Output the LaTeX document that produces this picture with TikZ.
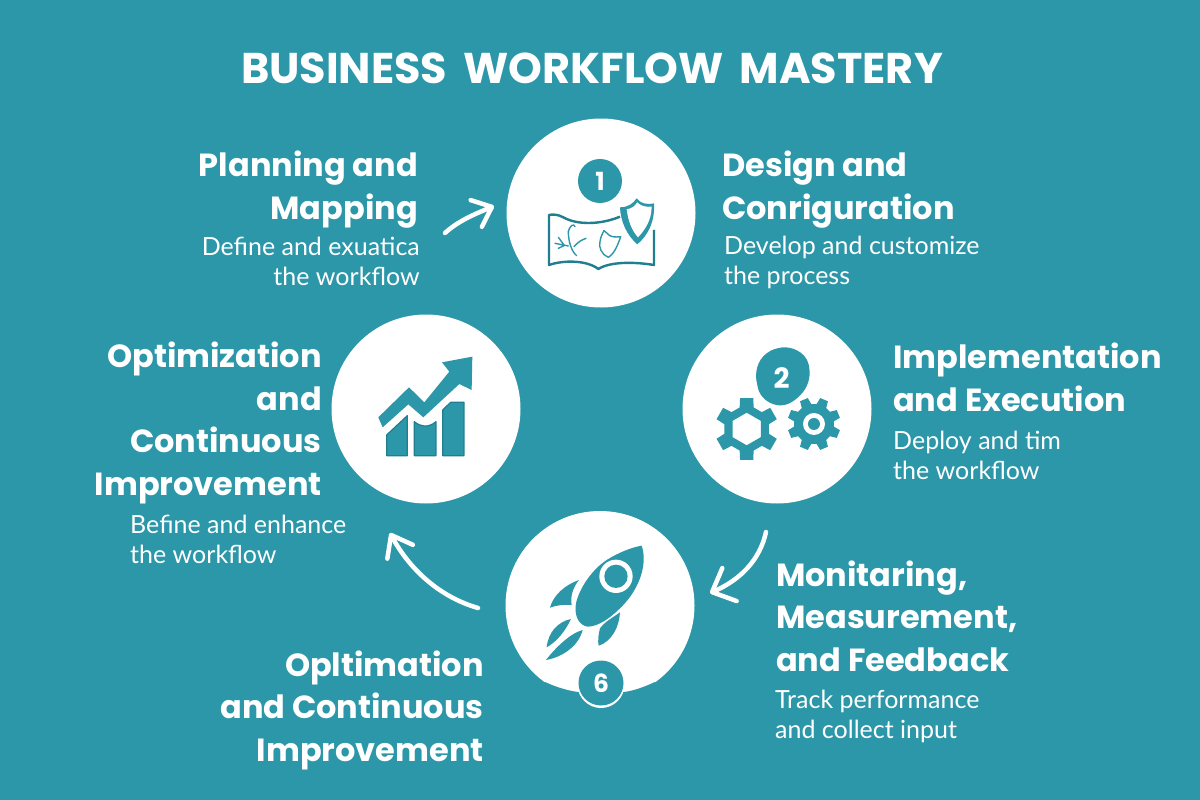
\documentclass[tikz,border=0pt]{standalone}
\usepackage{fontspec}
\setmainfont{Lato}
\newfontfamily\headfont{Poppins}
\usetikzlibrary{arrows.meta}
\definecolor{tealbg}{HTML}{2B97A8}
\definecolor{tealdk}{HTML}{1F7F8F}
\tikzset{
  x=1pt,y=-1pt,
  disc/.style={circle,fill=white,draw=none,inner sep=0pt,minimum size=189pt},
  head/.style={text=white,inner sep=0pt,font=\headfont\bfseries\fontsize{32}{42.5}\selectfont},
  desc/.style={text=white,inner sep=0pt,font=\fontsize{25}{30}\selectfont},
  flow/.style 2 args={draw=white,line width=4.5pt,line cap=round,line join=round,-{Straight Barb[length=#1pt,width=#2pt,line width=4.5pt,round]}},
  ink/.style={draw=tealbg,line width=1.4pt,line join=round,line cap=round},
  zoomA/.style={shift={(#1)},x=0.3333pt,y=-0.3333pt},
  badge/.style={circle,fill=tealbg,text=white,inner sep=0pt,font=\headfont\bfseries\fontsize{25}{25}\selectfont},
}
\begin{document}
\begin{tikzpicture}
\useasboundingbox (0,0) rectangle (1200,800);
\fill[tealbg] (0,0) rectangle (1200,800);
\node[text=white,inner sep=0pt,anchor=base,font=\headfont\bfseries\fontsize{43}{43}\selectfont] (title) at (592,83.5) {BUSINESS\hspace{7pt} WORKFLOW\hspace{7pt} MASTERY};

% discs
\node[disc] (c1) at (601,213) {};
\node[disc] (c2) at (777,409) {};
\node[disc] (c3) at (600,605.5) {};
\node[disc] (c4) at (426,409) {};

% icon 1: map and shield
\begin{scope}[zoomA={500,110}]
  \node[badge,minimum size=44pt] (b1) at (300,213) {1};
  \draw[draw=tealdk,line width=2.4pt,line join=round] (360,320) .. controls (300,345) and (230,345) .. (190,322) .. controls (175,314) and (160,312) .. (147,315) -- (147,465) .. controls (190,450) and (260,450) .. (295,477) .. controls (330,455) and (400,455) .. (462,465) -- (462,360);
  \fill[tealbg,line join=round] (360,292) .. controls (385,292) and (400,280) .. (410,265) .. controls (420,280) and (440,285) .. (462,280) .. controls (465,335) and (445,375) .. (412,403) .. controls (380,375) and (362,335) .. (360,292) -- cycle;
  \fill[white] (380,298) .. controls (395,296) and (405,288) .. (412,277) .. controls (420,288) and (440,292) .. (455,290) .. controls (455,330) and (435,360) .. (414,382) .. controls (395,360) and (385,335) .. (380,298) -- cycle;
  \draw[ink] (205,365) .. controls (210,345) and (222,340) .. (225,350);
  \draw[ink] (205,365) .. controls (205,395) and (215,425) .. (230,437);
  \draw[ink] (165,400) -- (205,408) (175,382) -- (192,405) (175,415) -- (192,407);
  \draw[ink] (222,410) .. controls (235,395) and (245,390) .. (258,385);
  \draw[ink] (312,362) .. controls (325,370) and (325,385) .. (362,380) .. controls (355,400) and (345,430) .. (325,442) .. controls (305,435) and (295,410) .. (300,395) .. controls (302,380) and (308,370) .. (312,362) -- cycle;
\end{scope}

% icon 2: gears
\begin{scope}[zoomA={680,310}]
  \fill[tealbg] (308,112) .. controls (335,110) and (375,125) .. (385,160) .. controls (395,195) and (385,225) .. (370,245) .. controls (350,270) and (320,292) .. (290,285) .. controls (260,280) and (235,255) .. (232,225) .. controls (222,190) and (232,150) .. (260,130) .. controls (275,118) and (290,115) .. (308,112) -- cycle;
  \node[text=white,inner sep=0pt,font=\headfont\bfseries\fontsize{28}{28}\selectfont] (b2) at (305,205) {2};
  \begin{scope}[shift={(200,357)}]
    \fill[tealbg,even odd rule,line join=round]
      (72:68)
      \foreach \a in {0,60,...,300}{
        -- ({\a+90-18}:68) -- ({\a+90-12}:95) -- ({\a+90+12}:95) -- ({\a+90+18}:68)
      } -- cycle
      (90:49) -- (30:49) -- (-30:49) -- (-90:49) -- (-150:49) -- (150:49) -- cycle;
  \end{scope}
  \begin{scope}[shift={(402,342)}]
    \fill[tealbg,line join=round]
      (7.5:60)
      \foreach \a in {0,45,...,315}{
        -- ({\a+22.5-15}:60) -- ({\a+22.5-9}:80) -- ({\a+22.5+9}:80) -- ({\a+22.5+15}:60)
      } -- cycle;
    \fill[white] (0,0) circle[radius=33];
    \fill[tealbg] (0,0) circle[radius=18];
  \end{scope}
\end{scope}

% icon 3: rocket
\begin{scope}[zoomA={500,510}]
  \fill[tealbg] (425,107) .. controls (445,165) and (415,240) .. (365,290) .. controls (330,325) and (295,350) .. (262,350) .. controls (235,345) and (222,315) .. (228,280) .. controls (238,235) and (275,180) .. (320,150) .. controls (355,128) and (395,112) .. (425,107) -- cycle;
  \fill[white] (348,199) circle[radius=50];
  \fill[tealbg] (348,199) circle[radius=35];
  \fill[tealbg] (237,210) .. controls (195,225) and (160,255) .. (150,293) .. controls (170,285) and (195,283) .. (215,285) .. controls (210,260) and (220,230) .. (237,210) -- cycle;
  \fill[tealbg] (360,307) .. controls (335,325) and (315,335) .. (300,355) .. controls (295,375) and (293,392) .. (296,407) .. controls (335,395) and (358,350) .. (360,307) -- cycle;
  \fill[tealbg] (213,327) .. controls (175,335) and (145,365) .. (140,412) .. controls (170,395) and (195,365) .. (213,327) -- cycle;
  \fill[tealbg] (248,360) .. controls (210,370) and (165,415) .. (138,450) .. controls (185,442) and (235,410) .. (248,360) -- cycle;
\end{scope}
% flattened foot of the third disc, with its badge
\fill[tealbg] (545,682) .. controls (558,688) and (570,691) .. (578,692) -- (592,692) -- (592,712) -- (545,712) -- cycle;
\fill[tealbg] (655,682) .. controls (642,688) and (632,691) .. (624,692) -- (610,692) -- (610,712) -- (655,712) -- cycle;
\fill[white] (601,684.5) circle[radius=23.5];
\node[badge,minimum size=45pt] (b3) at (601,683) {6};

% icon 4: chart
\begin{scope}[zoomA={330,310}]
  \fill[tealbg,line join=round] (145,322) -- (237,232) -- (283,277) -- (358,185) -- (336,157) -- (427,140) -- (425,240) -- (388,222) -- (280,322) -- (235,283) -- (158,352) -- cycle;
  \filldraw[fill=tealbg,draw=tealdk,line width=1.2pt,line join=round] (170,375) -- (232,317) -- (232,437) -- (170,437) -- cycle;
  \filldraw[fill=tealbg,draw=tealdk,line width=1.2pt,line join=round] (253,335) .. controls (270,350) and (295,355) .. (318,335) -- (318,437) -- (253,437) -- cycle;
  \filldraw[fill=tealbg,draw=tealdk,line width=1.2pt,line join=round] (338,300) -- (362,277) -- (402,277) -- (402,437) -- (338,437) -- cycle;
\end{scope}

% text (anchors sit on the last baseline of each block)
\node[head,anchor=base east,align=right] (t1) at (418,219) {Planning and\\Mapping};
\node[desc,anchor=base east,align=right] (d1) at (420,285) {Define and exuatica\\the workflow};
\node[head,anchor=base west,align=left] (t2) at (722,219) {Design and\\Conriguration};
\node[desc,anchor=base west,align=left] (d2) at (724,284) {Develop and customize\\the process};
\node[head,anchor=base west,align=left] (t3) at (893,411) {Implementation\\and Execution};
\node[desc,anchor=base west,align=left] (d3) at (893,479) {Deploy and tim\\the workflow};
\node[head,anchor=base west,align=left] (t4) at (776,671) {Monitaring,\\Measurement,\\and Feedback};
\node[desc,anchor=base west,align=left] (d4) at (775,738) {Track performance\\and collect input};
\node[head,anchor=base east,align=right] (t5) at (484,761) {Opltimation\\and Continuous\\Improvement};
\node[head,anchor=base east,align=right] (t6) at (322,495) {Optimization\\and\\Continuous\\Improvement};
\node[desc,anchor=base west,align=left] (d6) at (130,563) {Befine and enhance\\the workflow};

% connectors
\coordinate (a1s) at (445,233);
\coordinate (a1e) at (494,206);
\coordinate (a2s) at (766,532);
\coordinate (a2e) at (710,593);
\coordinate (a3s) at (478,608);
\coordinate (a3e) at (390,533);
\draw[flow={17}{29}] (a1s) .. controls (458,221) and (475,214) .. (a1e);
\draw[flow={19}{36}] (a2s) .. controls (760,560) and (740,580) .. (a2e);
\draw[flow={19}{29}] (a3s) .. controls (440,597) and (410,570) .. (a3e);
\end{tikzpicture}
\end{document}
